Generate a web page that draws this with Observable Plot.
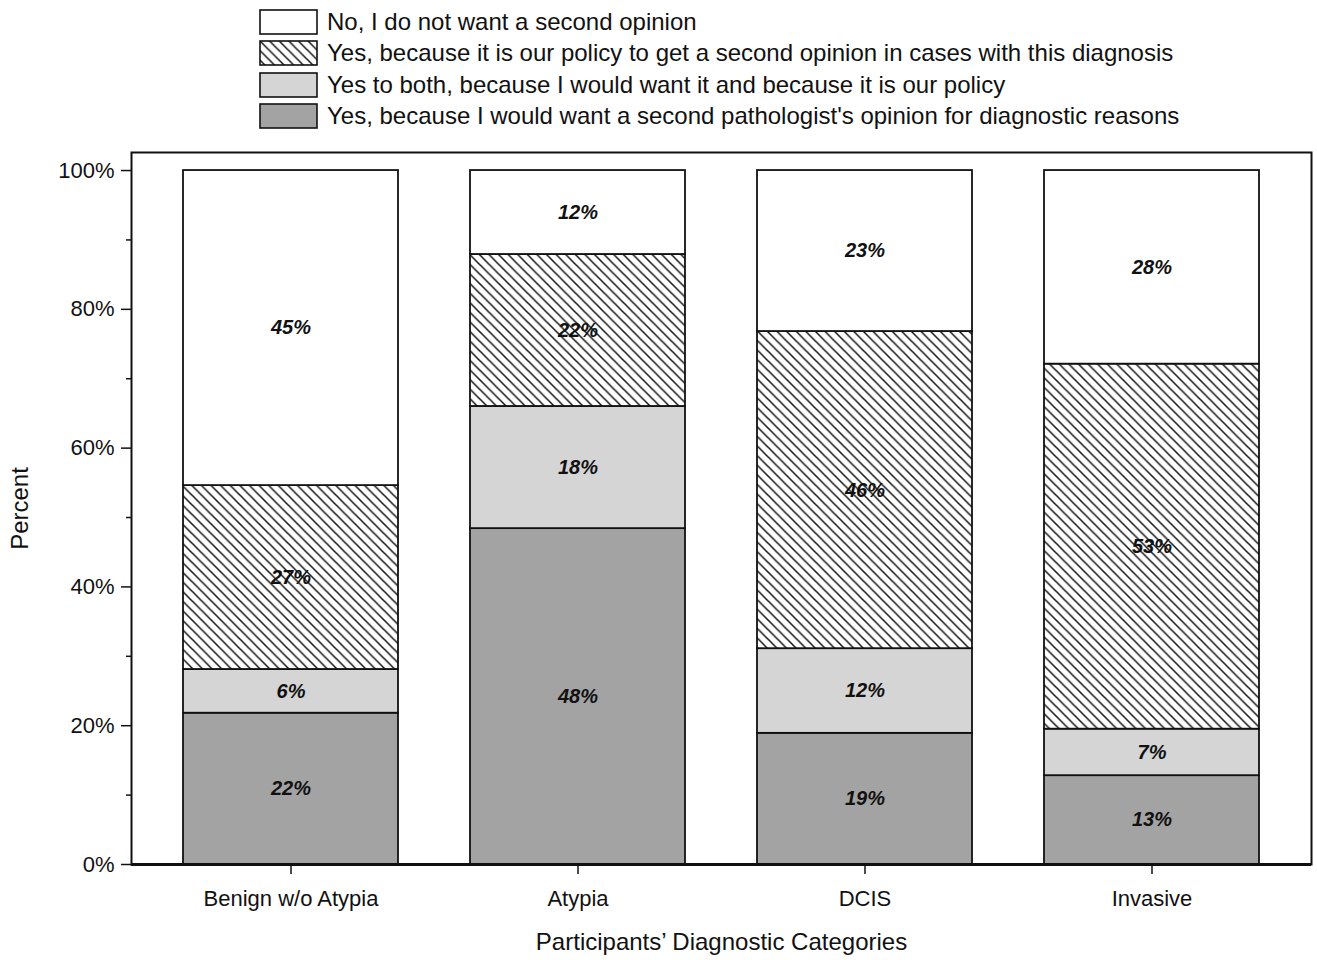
<!DOCTYPE html>
<html>
<head>
<meta charset="utf-8">
<script src="https://cdn.jsdelivr.net/npm/d3@7"></script>
<script src="https://cdn.jsdelivr.net/npm/@observablehq/plot@0.6"></script>
<style>
  body { margin: 0; background: #fff; font-family: "Liberation Sans", Arial, sans-serif; color: #111; }
  #legend { position: relative; width: 1317px; height: 140px; box-sizing: border-box; padding-top: 6px; padding-left: 259px; }
  .row { display: flex; align-items: center; height: 31.5px; font-size: 24px; }
  .row svg { margin-right: 9px; flex: none; }
</style>
</head>
<body>
<svg width="0" height="0" style="position:absolute">
  <defs>
    <pattern id="hatch" patternUnits="userSpaceOnUse" width="9.6" height="9.6">
      <rect width="9.6" height="9.6" fill="#fff"></rect>
      <path d="M0,0L9.6,9.6M-3,6.6L3,12.6M6.6,-3L12.6,3" stroke="#111" stroke-width="1.5"></path>
    </pattern>
  </defs>
</svg>
<div id="legend"></div>
<div id="chart"></div>
<script>
const categories = ["Benign w/o Atypia", "Atypia", "DCIS", "Invasive"];
const seriesNames = [
  "Yes, because I would want a second pathologist's opinion for diagnostic reasons",
  "Yes to both, because I would want it and because it is our policy",
  "Yes, because it is our policy to get a second opinion in cases with this diagnosis",
  "No, I do not want a second opinion"
];
const diagnostic = [21.8, 48.4, 18.9, 12.8];
const both = [6.3, 17.6, 12.2, 6.7];
const policy = [26.5, 21.9, 45.7, 52.6];
const noOpinion = [45.4, 12.1, 23.2, 27.9];
const seriesFills = ["#a3a3a3", "#d5d5d5", "url(#hatch)", "#ffffff"];
const legendOrder = [3, 2, 1, 0];
const yTicks = [0, 20, 40, 60, 80, 100];
const yMinorTicks = [10, 30, 50, 70, 90];

const seriesValues = [diagnostic, both, policy, noOpinion];
const rows = [];
categories.forEach((c, i) => {
  let cum = 0;
  seriesValues.forEach((vals, k) => {
    const v = vals[i];
    rows.push({category: c, k, value: v, y1: cum, y2: cum + v, mid: cum + v / 2});
    cum += v;
  });
});

// Legend
const legend = document.getElementById("legend");
legendOrder.forEach(k => {
  const row = document.createElement("div");
  row.className = "row";
  row.innerHTML = `<svg width="59" height="26"><rect x="1" y="1" width="57" height="24" fill="${seriesFills[k]}" stroke="#111" stroke-width="1.6"></rect></svg><span>${seriesNames[k]}</span>`;
  legend.appendChild(row);
});

const fontFamily = '"Liberation Sans", Arial, sans-serif';
const chart = Plot.plot({
  width: 1317,
  height: 820,
  marginTop: 12,
  marginBottom: 96,
  marginLeft: 131,
  marginRight: 6,
  style: {fontFamily, fontSize: "22px", color: "#111", background: "#fff"},
  x: {domain: categories, paddingInner: 0.251, paddingOuter: 0.179},
  y: {domain: [0, 102.6]},
  marks: [
    ...seriesNames.map((s, k) => Plot.barY(rows.filter(r => r.k === k), {
      x: "category", y1: "y1", y2: "y2", fill: seriesFills[k], stroke: "#111", strokeWidth: 1.8
    })),
    Plot.text(rows, {
      x: "category", y: "mid", text: d => Math.round(d.value) + "%",
      fontSize: 20, fontWeight: "bold", fontStyle: "italic", fill: "#111"
    }),
    Plot.frame({stroke: "#111", strokeWidth: 2}),
    Plot.ruleY([0], {stroke: "#111", strokeWidth: 3}),
    Plot.axisY({ticks: yTicks, tickFormat: d => d + "%", tickSize: 10, tickPadding: 7, label: null, fontSize: 22, stroke: "#111", strokeWidth: 1.5}),
    Plot.axisY({ticks: yMinorTicks, tickFormat: () => "", tickSize: 5, label: null, stroke: "#111", strokeWidth: 1.5}),
    Plot.axisX({tickSize: 10, tickPadding: 16, label: null, fontSize: 22, stroke: "#111", strokeWidth: 1.5}),
    Plot.text(["Participants’ Diagnostic Categories"], {frameAnchor: "bottom", dy: 85, fontSize: 24, fill: "#111"}),
    Plot.text(["Percent"], {frameAnchor: "left", dx: -111, rotate: -90, textAnchor: "middle", fontSize: 24, fill: "#111"})
  ]
});
document.getElementById("chart").appendChild(chart);
</script>
</body>
</html>
